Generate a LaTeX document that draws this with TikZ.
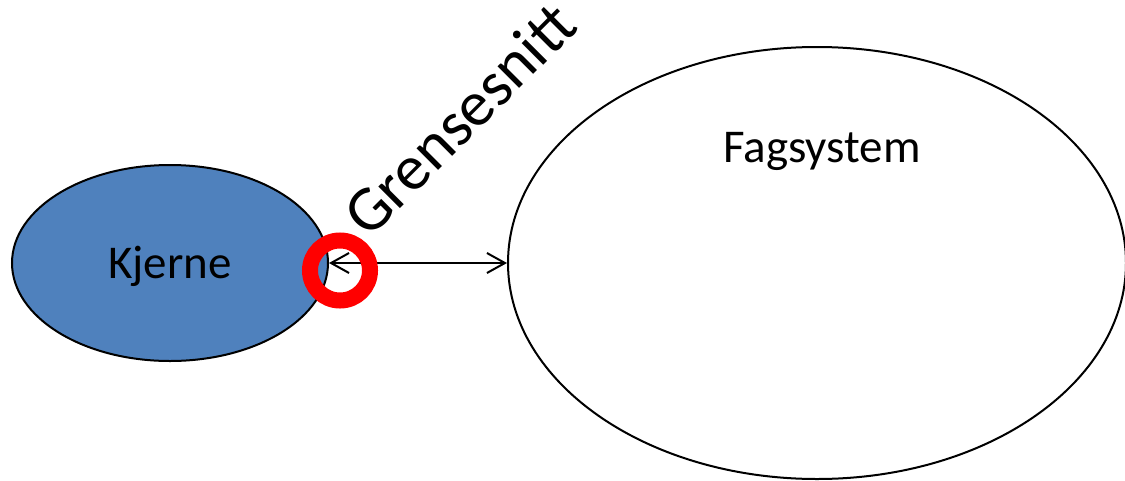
\documentclass[tikz,border=0pt]{standalone}
\usepackage{fontspec}
\setmainfont{Carlito}
\usetikzlibrary{shapes.geometric,arrows.meta}
\definecolor{kjblue}{HTML}{4F81BD}
\tikzset{
  blob/.style={ellipse, draw=black, line width=2pt, inner sep=0pt},
  lbl/.style={inner sep=0pt, text=black},
  ring/.style={circle, draw=red, line width=16pt, inner sep=0pt, minimum size=60pt},
  link/.style={line width=2pt, {Straight Barb[length=18pt,width=20pt]}-{Straight Barb[length=18pt,width=20pt]}}
}
\begin{document}
\begin{tikzpicture}[x=1pt,y=-1pt]
\useasboundingbox (0,0) rectangle (1125,480);
\node[blob, fill=kjblue, minimum width=316pt, minimum height=196pt] (kj) at (170,263) {};
\node[lbl, font=\fontsize{47}{51}\selectfont] (kjt) at (170,266) {Kjerne};
\node[blob, fill=white, minimum width=618pt, minimum height=432pt] (fag) at (817,263) {};
\node[lbl, font=\fontsize{47}{51}\selectfont] (fagt) at (822,151) {Fagsystem};
\draw[link] (kj.east) -- (fag.west);
\node[ring] (ring) at (340,270.5) {};
\node[lbl, rotate=45, font=\fontsize{64}{70}\selectfont] (gr) at (459,119) {Grensesnitt};
\end{tikzpicture}
\end{document}
